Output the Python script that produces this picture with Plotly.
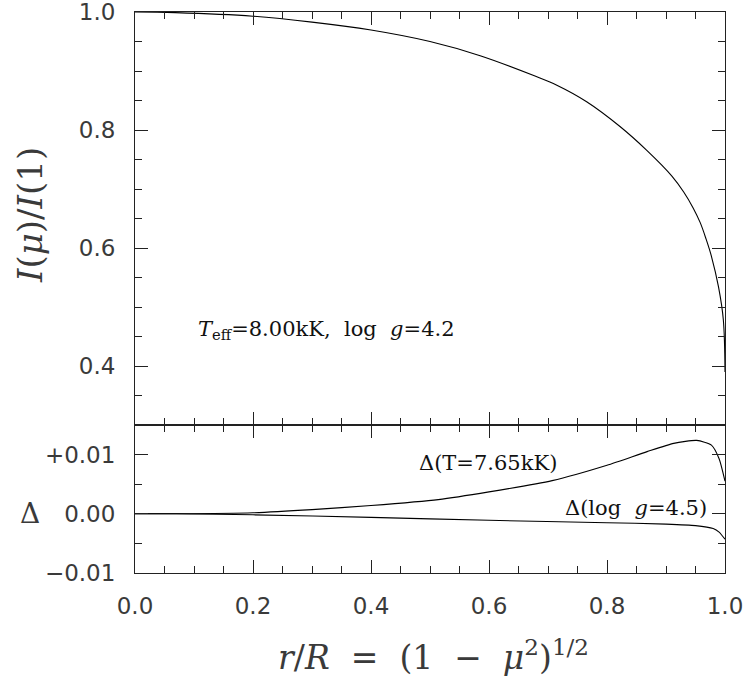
import plotly.graph_objects as go

# Top panel: limb-darkening profile I(mu)/I(1) vs r/R
r_top = [0.0, 0.068, 0.2, 0.3, 0.4, 0.5, 0.585, 0.678, 0.715, 0.7655, 0.822, 0.867,
         0.91, 0.93, 0.946, 0.958, 0.968, 0.977, 0.989, 0.9972, 1.0]
i_top = [1.0, 0.999, 0.993, 0.983, 0.9695, 0.95, 0.926, 0.8915, 0.876, 0.848, 0.806, 0.766,
         0.722, 0.695, 0.668, 0.643, 0.615, 0.586, 0.534, 0.478, 0.39]

# Bottom panel: differences
r_dT = [0.0, 0.07, 0.2, 0.3, 0.4, 0.514, 0.6, 0.707, 0.8, 0.868, 0.913, 0.952, 0.977, 0.99, 1.0]
d_dT = [0.0, 0.0, 0.00017, 0.0007, 0.0014, 0.0024, 0.0037, 0.0056, 0.0082, 0.0105, 0.0119, 0.0124,
        0.0116, 0.0093, 0.0055]

r_dg = [0.0, 0.07, 0.2, 0.4, 0.6, 0.8, 0.9, 0.95, 0.98, 0.99, 1.0]
d_dg = [0.0, 0.0, -0.00017, -0.0006, -0.0011, -0.0015, -0.00175, -0.002, -0.0025, -0.0031, -0.0043]

top_yticks = [0.4, 0.6, 0.8, 1.0]
bot_yticks = [-0.01, 0.0, 0.01]
bot_yticktext = ["\u22120.01", "0.00", "+0.01"]
xticks = [0.0, 0.2, 0.4, 0.6, 0.8, 1.0]

LINE = "#222"
TXT = "#3a3a3a"
TICKFONT = dict(family="DejaVu Sans ExtraLight, DejaVu Sans", size=23, color=TXT)

fig = go.Figure()
fig.add_trace(go.Scatter(x=r_top, y=i_top, mode="lines", line=dict(color="black", width=1.1, shape="spline", smoothing=1.0),
                         xaxis="x", yaxis="y", showlegend=False))
fig.add_trace(go.Scatter(x=r_dT, y=d_dT, mode="lines", line=dict(color="black", width=1.1, shape="spline", smoothing=0.6),
                         xaxis="x2", yaxis="y2", showlegend=False))
fig.add_trace(go.Scatter(x=r_dg, y=d_dg, mode="lines", line=dict(color="black", width=1.1, shape="spline", smoothing=0.6),
                         xaxis="x2", yaxis="y2", showlegend=False))

split = 148 / 561

common_x = dict(range=[0, 1], showline=True, linecolor=LINE, linewidth=1, mirror="ticks",
                ticks="inside", ticklen=13, tickcolor=LINE, tickwidth=1, automargin=False,
                tickvals=xticks, showgrid=False, zeroline=False, ticklabeloverflow="allow",
                minor=dict(ticks="inside", ticklen=7, dtick=0.05, tick0=0, tickcolor=LINE, showgrid=False))

fig.update_layout(
    width=746, height=678,
    margin=dict(l=135, r=21, t=12, b=105, autoexpand=False),
    paper_bgcolor="white", plot_bgcolor="white",
    xaxis=dict(**common_x, anchor="y", domain=[0, 1], showticklabels=False),
    xaxis2=dict(**common_x, anchor="y2", domain=[0, 1], showticklabels=True,
                tickformat=".1f", tickfont=TICKFONT, ticklabelstandoff=12),
    yaxis=dict(domain=[split, 1], range=[0.3, 1.0001], anchor="x", showline=True, linecolor=LINE,
               linewidth=1, mirror="ticks", ticks="inside", ticklen=13, tickcolor=LINE, automargin=False,
               tickvals=top_yticks, tickformat=".1f", tickfont=TICKFONT, showgrid=False,
               zeroline=False, ticklabelstandoff=14, ticklabeloverflow="allow",
               minor=dict(ticks="inside", ticklen=7, dtick=0.05, tick0=0, tickcolor=LINE, showgrid=False)),
    yaxis2=dict(domain=[0, split], range=[-0.01, 0.015], anchor="x2", showline=True, linecolor=LINE,
                linewidth=1, mirror="ticks", ticks="inside", ticklen=13, tickcolor=LINE, automargin=False,
                tickvals=bot_yticks, ticktext=bot_yticktext, tickfont=TICKFONT, showgrid=False,
                zeroline=False, ticklabelstandoff=14, ticklabeloverflow="allow",
                minor=dict(ticks="inside", ticklen=7, dtick=0.005, tick0=0, tickcolor=LINE, showgrid=False)),
)

SERIF = "DejaVu Serif"
ann = [
    dict(text="<i>r</i>/<i>R</i>  =  (1  \u2212  <i>\u03bc</i><sup>2</sup>)<sup>1/2</sup>",
         x=433, y=678 - 655, font=dict(family=SERIF, size=33, color=TXT)),
    dict(text="<i>I</i>(<i>\u03bc</i>)/<i>I</i>(1)", x=30, y=678 - 215, textangle=-90,
         font=dict(family=SERIF, size=34, color=TXT)),
    dict(text="\u0394", x=30, y=678 - 513, font=dict(family=SERIF, size=28, color=TXT)),
    dict(text="<i>T</i><sub>eff</sub>=8.00kK,  log  <i>g</i>=4.2", x=326, y=678 - 330,
         font=dict(family=SERIF, size=21, color="#111")),
    dict(text="\u0394(T=7.65kK)", x=488, y=678 - 463, font=dict(family=SERIF, size=21, color="#111")),
    dict(text="\u0394(log  <i>g</i>=4.5)", x=636, y=678 - 508, font=dict(family=SERIF, size=21, color="#111")),
]
for a in ann:
    fig.add_annotation(xref="paper", yref="paper", showarrow=False,
                       xanchor="center", yanchor="middle", **{k: v for k, v in a.items() if k not in ("x", "y")},
                       x=(a["x"] - 135) / (746 - 135 - 21), y=(a["y"] - 105) / (678 - 12 - 105))

fig.write_html("out.html")
